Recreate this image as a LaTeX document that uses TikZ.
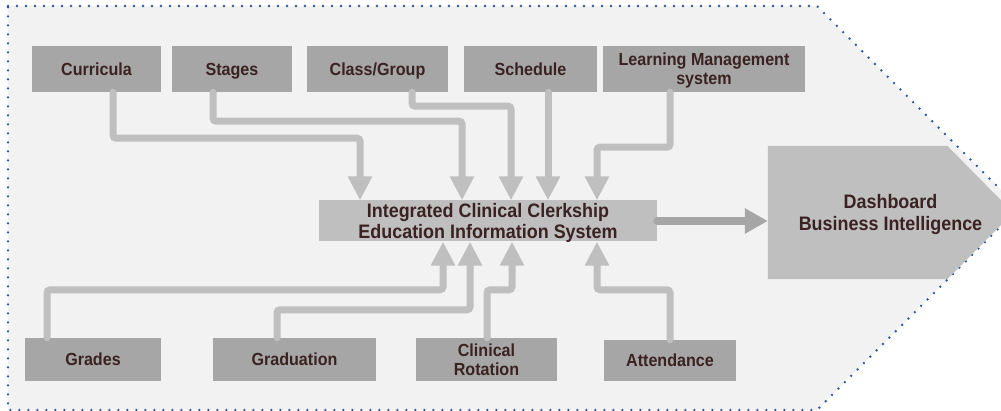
\documentclass[tikz,border=0pt]{standalone}
\usepackage{fontspec}
\setmainfont{Liberation Sans}[FakeStretch=0.92]
\usetikzlibrary{arrows.meta,backgrounds}

\definecolor{bgfill}{HTML}{F2F2F2}
\definecolor{framedots}{HTML}{2F5597}
\definecolor{boxgray}{HTML}{A6A6A6}
\definecolor{palegray}{HTML}{BFBFBF}
\definecolor{labeltext}{HTML}{3B2222}

\begin{document}
\begin{tikzpicture}[x=1pt,y=-1pt,
    source/.style={fill=boxgray, text=labeltext, inner sep=0pt, align=center,
                   font=\bfseries\fontsize{17.5}{19}\selectfont},
    oneline/.style={text height=12.5pt, text depth=0pt},
    hub/.style={text=labeltext, inner sep=0pt, align=center, text depth=0pt,
                font=\bfseries\fontsize{19.5}{21.5}\selectfont},
    feed/.style={draw=palegray, line width=7pt, line cap=round, rounded corners=3pt,
                 -{Triangle[width=23pt,length=24pt]}},
    result/.style={draw=boxgray, line width=7.5pt, line cap=round,
                   -{Triangle[width=24pt,length=23pt]}}]

    \clip (0,0) rectangle (1001,411);

    % Quellen oben
    \node[source, oneline, minimum width=129pt, minimum height=46pt] (curricula) at (96.5,69) {Curricula};
    \node[source, oneline, minimum width=120pt, minimum height=46pt] (stages) at (232,69) {Stages};
    \node[source, oneline, minimum width=141pt, minimum height=46pt] (classgroup) at (377.5,69) {Class/Group};
    \node[source, oneline, minimum width=133pt, minimum height=46pt] (schedule) at (530.5,69) {Schedule};
    \node[source, text depth=0pt, minimum width=202pt, minimum height=46pt] (lms) at (704,69) {Learning Management\\system};

    % Quellen unten
    \node[source, oneline, minimum width=136pt, minimum height=43pt] (grades) at (93,359.5) {Grades};
    \node[source, oneline, minimum width=163pt, minimum height=43pt] (graduation) at (294.5,359.5) {Graduation};
    \node[source, minimum width=141pt, minimum height=43pt] (rotation) at (486.5,359.5) {Clinical\\Rotation};
    \node[source, oneline, minimum width=132pt, minimum height=41pt] (attendance) at (670,360.5) {Attendance};

    % System und Ausgabe
    \node[hub, fill=palegray, minimum width=338pt, minimum height=41pt] (ics) at (488,221)
        {Integrated Clinical Clerkship\\Education Information System};
    \node[hub, minimum width=245pt, minimum height=133pt] (dash) at (890.5,212.5)
        {Dashboard\\Business Intelligence};

    \begin{scope}[on background layer]
        % Rahmen
        \filldraw[fill=bgfill, draw=framedots, line width=2.6pt, line cap=round,
                  dash pattern=on 0pt off 9pt]
            (8,6) -- (817,6) -- (1019,208) -- (817,410) -- (8,410) -- cycle;
        % Pfeilform hinter dem Dashboard
        \fill[palegray] (dash.north west) -- ([xshift=-66pt]dash.north east) -- (dash.east)
            -- ([xshift=-66pt]dash.south east) -- (dash.south west) -- cycle;
    \end{scope}

    % Zufluss von oben
    \draw[feed] ([xshift=16.5pt]curricula.south) -- ++(0,46) -| ([xshift=-128pt]ics.north);
    \draw[feed] ([xshift=-19pt]stages.south) -- ++(0,29) -| ([xshift=-26pt]ics.north);
    \draw[feed] ([xshift=34.5pt]classgroup.south) -- ++(0,14) -| ([xshift=23pt]ics.north);
    \draw[feed] ([xshift=17.5pt]schedule.south) -- ([xshift=60pt]ics.north);
    \draw[feed] ([xshift=-34pt]lms.south) -- ++(0,55) -| ([xshift=109pt]ics.north);

    % Zufluss von unten
    \draw[feed] ([xshift=-46pt]grades.north) -- ++(0,-48) -| ([xshift=-45pt]ics.south);
    \draw[feed] ([xshift=-17.5pt]graduation.north) -- ++(0,-28) -| ([xshift=-18pt]ics.south);
    \draw[feed] ([xshift=0.5pt]rotation.north) -- ++(0,-48) -| ([xshift=24pt]ics.south);
    \draw[feed] (attendance.north) -- ++(0,-50) -| ([xshift=109pt]ics.south);

    % Ausgabe
    \draw[result] (ics.east) -- (ics.east -| dash.west);

\end{tikzpicture}
\end{document}
